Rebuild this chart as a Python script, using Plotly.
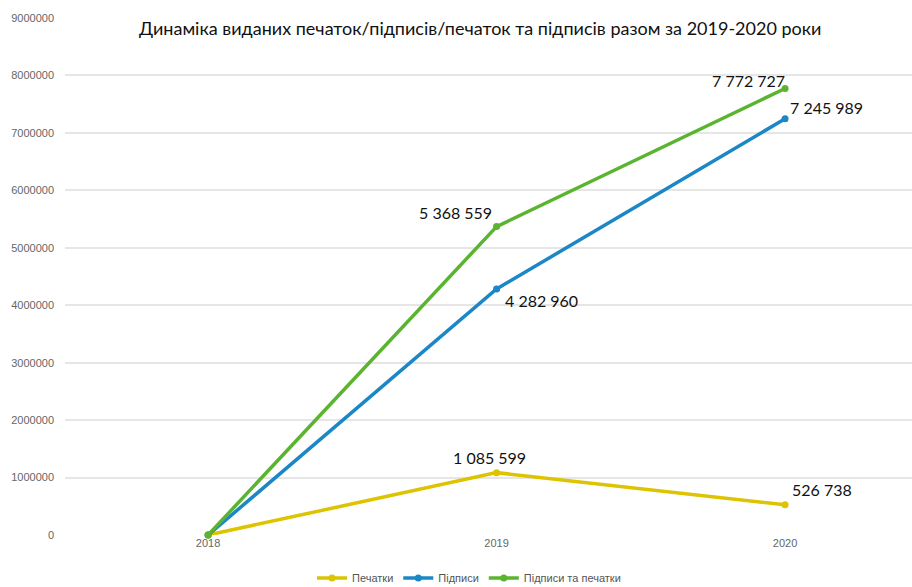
import plotly.graph_objects as go

years = ["2018", "2019", "2020"]
pechatky = [0, 1085599, 526738]
pidpysy = [0, 4282960, 7245989]
razom = [0, 5368559, 7772727]
series_names = ["Печатки", "Підписи", "Підписи та печатки"]
colors = ["#DDC300", "#1C87C7", "#5BB430"]
title = "Динаміка виданих печаток/підписів/печаток та підписів разом за 2019-2020 роки"

def fmt(v):
    return f"{v:,}".replace(",", " ")

fig = go.Figure()
for name, vals, col in zip(series_names, [pechatky, pidpysy, razom], colors):
    fig.add_trace(go.Scatter(
        x=years, y=vals, name=name, mode="lines+markers",
        line=dict(color=col, width=3.5), marker=dict(color=col, size=7),
        cliponaxis=False,
    ))

# label offsets (xshift, yshift) per series/point, skipping 2018
offsets = {
    0: {1: (-7, 15), 2: (37, 15)},
    1: {1: (45, -12), 2: (41, 11)},
    2: {1: (-41, 14), 2: (-37, 8)},
}
for si, vals in enumerate([pechatky, pidpysy, razom]):
    for pi in (1, 2):
        dx, dy = offsets[si][pi]
        fig.add_annotation(x=pi, y=vals[pi], xref="x", yref="y", text=fmt(vals[pi]),
                           showarrow=False, xshift=dx, yshift=dy,
                           font=dict(family="Lato, Carlito, sans-serif", size=16, color="#111"))

fig.add_annotation(text=title, xref="paper", yref="paper", x=0.49, y=1.0, yshift=-10,
                   showarrow=False, xanchor="center", yanchor="middle",
                   font=dict(family="Lato, Carlito, sans-serif", size=18, color="#111"))

fig.update_layout(
    width=912, height=587,
    margin=dict(l=65, r=0, t=18, b=52, autoexpand=False),
    plot_bgcolor="white", paper_bgcolor="white",
    showlegend=True,
    legend=dict(orientation="h", x=0.477, xanchor="center", y=-0.055, yanchor="top",
                font=dict(family="Liberation Sans, Arial", size=11, color="#555"),
                itemwidth=30, tracegroupgap=0),
    xaxis=dict(type="category", range=[-0.496, 2.44], showgrid=False, zeroline=False,
               showline=False, ticks="", automargin=False,
               tickfont=dict(family="Liberation Sans, Arial", size=11, color="#666")),
    yaxis=dict(range=[0, 9000000], dtick=1000000, tickformat="d", showgrid=True,
               gridcolor="#e6e6e6", gridwidth=1.5, zeroline=False, showline=False,
               ticks="", ticklabelstandoff=10, automargin=False,
               tickfont=dict(family="Liberation Sans, Arial", size=11, color="#666")),
)
fig.write_html("out.html", config={"displayModeBar": False},
               post_script="document.body.style.margin='0';")
